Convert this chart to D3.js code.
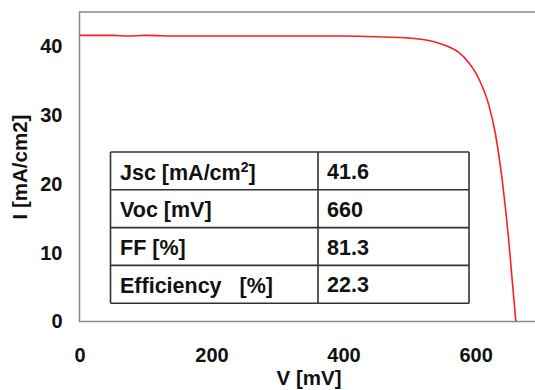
<!DOCTYPE html>
<html><head><meta charset="utf-8">
<script src="https://cdn.jsdelivr.net/npm/d3@7"></script>
<style>body{margin:0;background:#fff}svg{display:block;font-family:"Liberation Sans",Arial,sans-serif}text{white-space:pre}</style>
</head><body><svg id="c" width="535" height="390"></svg>
<script>
const voltage = [0, 25, 50, 75, 100, 150, 200, 250, 300, 350, 400, 450, 500, 520, 540, 560, 575, 590, 600, 610, 620, 630, 640, 650, 655, 661];
const current = [41.6, 41.6, 41.6, 41.5, 41.6, 41.5, 41.5, 41.5, 41.5, 41.5, 41.5, 41.4, 41.2, 41.0, 40.6, 39.9, 39.1, 37.6, 36.2, 34.2, 31.5, 27.3, 20.8, 12.0, 6.5, 0];
const xTicks = [0, 200, 400, 600];
const yTicks = [0, 10, 20, 30, 40];
const tableLabels = ["Jsc [mA/cm", "Voc [mV]", "FF [%]", "Efficiency   [%]"];
const tableValues = ["41.6", "660", "81.3", "22.3"];

const svg = d3.select("#c");
const m = {l: 79.5, t: 12, r: 535, b: 321.5};
const x = d3.scaleLinear().domain([0, 690]).range([m.l, m.r]);
const y = d3.scaleLinear().domain([0, 45]).range([m.b, m.t]);

// frame
svg.append("path").attr("d", `M${m.r},${m.t}H${m.l}V${m.b}H${m.r}`)
  .attr("fill","none").attr("stroke","#8a8a8a").attr("stroke-width",1.5);

// table
const tbl = {x0:110.5, x1:318, x2:469, y0:152, rh:37.8};
const g = svg.append("g");
tableLabels.forEach((lab,i)=>{
  const yy = tbl.y0 + i*tbl.rh;
  g.append("text").attr("x",120).attr("y",yy+27.5).attr("font-size",21.5).attr("font-weight","bold").attr("fill","#111")
   .call(t=>{ t.append("tspan").text(lab); if(i===0){ t.append("tspan").attr("font-size",14).attr("dy",-8).text("2"); t.append("tspan").attr("dy",8).text("]"); } });
  g.append("text").attr("x",327).attr("y",yy+27).attr("font-size",21.5).attr("font-weight","bold").attr("fill","#111").text(tableValues[i]);
});
for(let i=0;i<=4;i++){
  g.append("line").attr("x1",tbl.x0).attr("x2",tbl.x2).attr("y1",tbl.y0+i*tbl.rh).attr("y2",tbl.y0+i*tbl.rh).attr("stroke","#333").attr("stroke-width",1.6);
}
[tbl.x0,tbl.x1,tbl.x2].forEach(xx=>g.append("line").attr("x1",xx).attr("x2",xx).attr("y1",tbl.y0).attr("y2",tbl.y0+4*tbl.rh).attr("stroke","#333").attr("stroke-width",1.6));

// curve
const data = voltage.map((v,i)=>({v, i:current[i]}));
svg.append("path").datum(data)
  .attr("d", d3.line().x(d=>x(d.v)).y(d=>y(d.i)).curve(d3.curveMonotoneX))
  .attr("fill","none").attr("stroke","#ff1f1f").attr("stroke-width",1.6);

// axes
const xa = svg.append("g").attr("transform",`translate(0,${m.b})`).call(d3.axisBottom(x).tickValues(xTicks).tickSize(0).tickPadding(26));
const ya = svg.append("g").attr("transform",`translate(${m.l},0)`).call(d3.axisLeft(y).tickValues(yTicks).tickSize(0).tickPadding(17));
[xa,ya].forEach(a=>{a.select(".domain").remove(); a.selectAll("text").attr("font-size",20).attr("font-weight","bold").attr("fill","#111").attr("font-family","Liberation Sans, Arial, sans-serif");});

svg.append("text").attr("x",309).attr("y",385).attr("text-anchor","middle").attr("font-size",20.5).attr("font-weight","bold").attr("fill","#111").text("V [mV]");
svg.append("text").attr("transform","translate(27,167) rotate(-90)").attr("text-anchor","middle").attr("font-size",20.5).attr("font-weight","bold").attr("fill","#111").text("I [mA/cm2]");
</script></body></html>
